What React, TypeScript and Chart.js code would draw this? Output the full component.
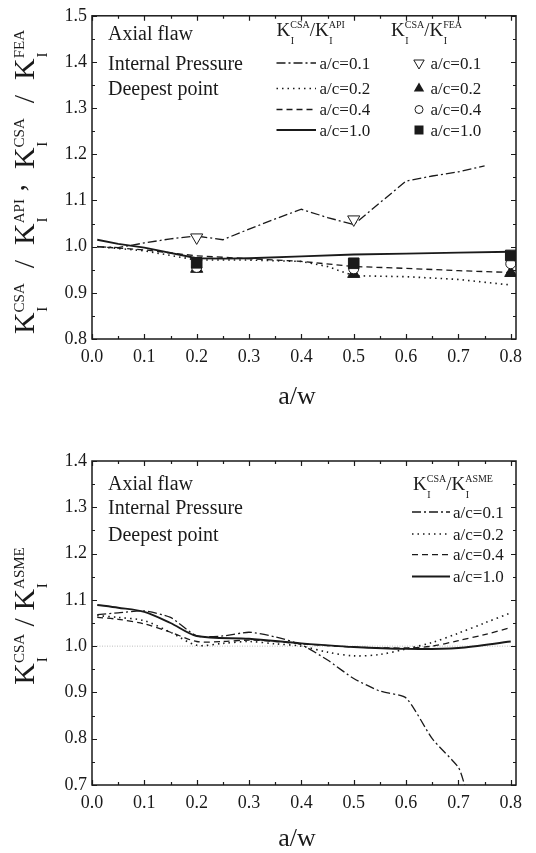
import React, { useEffect, useRef } from "react";
import { Chart, registerables } from "chart.js";

Chart.register(...registerables);

const SERIF = "'Liberation Serif', 'Times New Roman', Times, serif";
const INK = "#1a1a1a";

// ---------- shared ----------
const xTickValues = [0, 0.1, 0.2, 0.3, 0.4, 0.5, 0.6, 0.7, 0.8];
const topYTickValues = [0.8, 0.9, 1.0, 1.1, 1.2, 1.3, 1.4, 1.5];
const botYTickValues = [0.7, 0.8, 0.9, 1.0, 1.1, 1.2, 1.3, 1.4];
const seriesLabels = ["a/c=0.1", "a/c=0.2", "a/c=0.4", "a/c=1.0"];
const infoLines = ["Axial flaw", "Internal Pressure", "Deepest point"];
const xTitle = "a/w";

// ---------- top chart: K_CSA / K_API (lines) ----------
const apiX01 = [0.01, 0.05, 0.1, 0.15, 0.2, 0.25, 0.3, 0.35, 0.4, 0.45, 0.5, 0.55, 0.6, 0.65, 0.7, 0.75];
const apiY01 = [1.0, 0.998, 1.008, 1.017, 1.023, 1.015, 1.038, 1.06, 1.081, 1.063, 1.048, 1.095, 1.142, 1.153, 1.162, 1.175];
const apiX02 = [0.01, 0.1, 0.2, 0.3, 0.4, 0.45, 0.5, 0.6, 0.7, 0.8];
const apiY02 = [1.0, 0.991, 0.971, 0.971, 0.968, 0.957, 0.937, 0.935, 0.929, 0.917];
const apiX04 = [0.01, 0.1, 0.2, 0.3, 0.4, 0.5, 0.6, 0.7, 0.8];
const apiY04 = [1.0, 0.993, 0.98, 0.974, 0.968, 0.957, 0.953, 0.948, 0.944];
const apiX10 = [0.01, 0.05, 0.1, 0.2, 0.25, 0.3, 0.4, 0.5, 0.6, 0.7, 0.8];
const apiY10 = [1.015, 1.006, 0.998, 0.975, 0.974, 0.975, 0.979, 0.983, 0.985, 0.987, 0.989];

// ---------- top chart: K_CSA / K_FEA (markers) ----------
const feaX01 = [0.2, 0.5];
const feaY01 = [1.02, 1.059];
const feaX = [0.2, 0.5, 0.8];
const feaY02 = [0.952, 0.941, 0.943];
const feaY04 = [0.955, 0.952, 0.963];
const feaY10 = [0.965, 0.964, 0.981];

// ---------- bottom chart: K_CSA / K_ASME ----------
const asmeX01 = [0.01, 0.05, 0.1, 0.15, 0.2, 0.25, 0.3, 0.35, 0.4, 0.45, 0.5, 0.55, 0.6, 0.65, 0.7, 0.712];
const asmeY01 = [1.068, 1.072, 1.076, 1.062, 1.022, 1.022, 1.03, 1.02, 1.003, 0.97, 0.93, 0.903, 0.888, 0.8, 0.738, 0.7];
const asmeX02 = [0.01, 0.05, 0.1, 0.15, 0.2, 0.25, 0.3, 0.35, 0.4, 0.45, 0.5, 0.55, 0.6, 0.65, 0.7, 0.75, 0.8];
const asmeY02 = [1.066, 1.062, 1.055, 1.03, 1.002, 1.006, 1.01, 1.005, 1.0, 0.987, 0.979, 0.982, 0.994, 1.008, 1.028, 1.05, 1.072];
const asmeX04 = [0.01, 0.05, 0.1, 0.15, 0.2, 0.25, 0.3, 0.35, 0.4, 0.5, 0.6, 0.65, 0.7, 0.75, 0.8];
const asmeY04 = [1.062, 1.058, 1.048, 1.03, 1.01, 1.01, 1.013, 1.01, 1.005, 0.998, 0.996, 1.0, 1.012, 1.025, 1.04];
const asmeX10 = [0.01, 0.05, 0.1, 0.15, 0.2, 0.3, 0.4, 0.5, 0.6, 0.7, 0.8];
const asmeY10 = [1.089, 1.083, 1.074, 1.05, 1.022, 1.016, 1.006, 0.998, 0.994, 0.996, 1.01];
const asmeRefY = 1.0;

// ---------- styles ----------
const dashes: number[][] = [[9, 3, 2, 3], [1.5, 4], [6, 4], []];
const widths = [1.3, 1.6, 1.3, 1.9];

const pts = (xs: number[], ys: number[]) => xs.map((x, i) => ({ x, y: ys[i] }));

type Part = { k?: string; t?: string; raise?: number };
type Sizes = { big: number; small: number; raise: number; drop: number };

function kWidth(ctx: CanvasRenderingContext2D, sup: string, s: Sizes) {
  ctx.font = `${s.big}px ${SERIF}`;
  const wK = ctx.measureText("K").width;
  ctx.font = `${s.small}px ${SERIF}`;
  return wK + Math.max(ctx.measureText(sup).width, ctx.measureText("I").width);
}
function drawK(ctx: CanvasRenderingContext2D, x: number, y: number, sup: string, s: Sizes) {
  ctx.font = `${s.big}px ${SERIF}`;
  ctx.fillText("K", x, y);
  const wK = ctx.measureText("K").width;
  ctx.font = `${s.small}px ${SERIF}`;
  ctx.fillText(sup, x + wK, y - s.raise);
  ctx.fillText("I", x + wK + s.small * 0.05, y + s.drop);
  return wK + Math.max(ctx.measureText(sup).width, ctx.measureText("I").width);
}
function richWidth(ctx: CanvasRenderingContext2D, parts: Part[], s: Sizes) {
  let w = 0;
  for (const p of parts) {
    if (p.k !== undefined) w += kWidth(ctx, p.k, s);
    else {
      ctx.font = `${s.big}px ${SERIF}`;
      w += ctx.measureText(p.t || "").width;
    }
  }
  return w;
}
function drawRich(ctx: CanvasRenderingContext2D, parts: Part[], x: number, y: number, s: Sizes) {
  for (const p of parts) {
    if (p.k !== undefined) x += drawK(ctx, x, y, p.k, s);
    else {
      ctx.font = `${s.big}px ${SERIF}`;
      ctx.fillText(p.t || "", x, y - (p.raise || 0));
      x += ctx.measureText(p.t || "").width;
    }
  }
}
function drawMarker(ctx: CanvasRenderingContext2D, kind: string, x: number, y: number) {
  ctx.save();
  ctx.setLineDash([]);
  ctx.lineWidth = 1;
  ctx.strokeStyle = INK;
  ctx.beginPath();
  if (kind === "tdown") {
    const r = 6;
    ctx.moveTo(x, y + r);
    ctx.lineTo(x - r * 0.866, y - r / 2);
    ctx.lineTo(x + r * 0.866, y - r / 2);
    ctx.closePath();
    ctx.fillStyle = "#fff";
    ctx.fill();
    ctx.stroke();
  } else if (kind === "tup") {
    const r = 6;
    ctx.moveTo(x, y - r);
    ctx.lineTo(x - r * 0.866, y + r / 2);
    ctx.lineTo(x + r * 0.866, y + r / 2);
    ctx.closePath();
    ctx.fillStyle = INK;
    ctx.fill();
  } else if (kind === "circle") {
    ctx.arc(x, y, 4, 0, Math.PI * 2);
    ctx.fillStyle = "#fff";
    ctx.fill();
    ctx.stroke();
  } else {
    ctx.rect(x - 4.5, y - 4.5, 9, 9);
    ctx.fillStyle = INK;
    ctx.fill();
  }
  ctx.restore();
}

type FrameCfg = {
  yTicks: number[];
  yTitle: Part[];
  yTitleCenter: number;
  xTitleY: number;
  extra: (ctx: CanvasRenderingContext2D, chart: any) => void;
  refY?: number;
};

function framePlugin(cfg: FrameCfg) {
  return {
    id: "frame",
    beforeDatasetsDraw(chart: any) {
      if (cfg.refY === undefined) return;
      const { ctx, chartArea: a, scales } = chart;
      const y = scales.y.getPixelForValue(cfg.refY);
      ctx.save();
      ctx.strokeStyle = "#bdbdbd";
      ctx.lineWidth = 1;
      ctx.setLineDash([1, 1.5]);
      ctx.beginPath();
      ctx.moveTo(a.left, y);
      ctx.lineTo(a.right, y);
      ctx.stroke();
      ctx.restore();
    },
    afterDraw(chart: any) {
      const { ctx, chartArea: a, scales } = chart;
      const xs = scales.x;
      const ys = scales.y;
      ctx.save();
      ctx.strokeStyle = INK;
      ctx.fillStyle = INK;
      ctx.setLineDash([]);
      ctx.lineWidth = 1.5;
      ctx.strokeRect(a.left, a.top, a.right - a.left, a.bottom - a.top);
      ctx.lineWidth = 1.2;
      ctx.beginPath();
      const xAll: [number, number][] = [];
      xTickValues.forEach((v, i) => {
        xAll.push([v, 5]);
        if (i < xTickValues.length - 1) xAll.push([(v + xTickValues[i + 1]) / 2, 3]);
      });
      for (const [v, len] of xAll) {
        const px = Math.round(xs.getPixelForValue(v)) + 0.5;
        ctx.moveTo(px, a.bottom);
        ctx.lineTo(px, a.bottom - len);
        ctx.moveTo(px, a.top);
        ctx.lineTo(px, a.top + len);
      }
      const yAll: [number, number][] = [];
      cfg.yTicks.forEach((v, i) => {
        yAll.push([v, 5]);
        if (i < cfg.yTicks.length - 1) yAll.push([(v + cfg.yTicks[i + 1]) / 2, 3]);
      });
      for (const [v, len] of yAll) {
        const py = Math.round(ys.getPixelForValue(v)) + 0.5;
        ctx.moveTo(a.left, py);
        ctx.lineTo(a.left + len, py);
        ctx.moveTo(a.right, py);
        ctx.lineTo(a.right - len, py);
      }
      ctx.stroke();

      // axis titles
      ctx.textBaseline = "alphabetic";
      ctx.font = `26px ${SERIF}`;
      ctx.textAlign = "center";
      ctx.fillText(xTitle, (a.left + a.right) / 2 - 7, cfg.xTitleY);
      ctx.textAlign = "left";
      const s: Sizes = { big: 30, small: 15, raise: 10, drop: 13 };
      const w = richWidth(ctx, cfg.yTitle, s);
      ctx.save();
      ctx.translate(34, cfg.yTitleCenter);
      ctx.rotate(-Math.PI / 2);
      drawRich(ctx, cfg.yTitle, -w / 2, 0, s);
      ctx.restore();

      cfg.extra(ctx, chart);
      ctx.restore();
    },
  };
}

function baseOptions(yMin: number, yMax: number, yTicks: number[], padTop: number, xAxisH: number) {
  const tickFont = { family: SERIF, size: 18 };
  return {
    responsive: false,
    animation: false as const,
    events: [],
    layout: { padding: { top: padTop, right: 20, left: 0, bottom: 0 } },
    plugins: { legend: { display: false }, tooltip: { enabled: false } },
    scales: {
      x: {
        type: "linear" as const,
        min: 0,
        max: 0.81,
        grid: { display: false, drawTicks: false },
        border: { display: false },
        afterBuildTicks: (sc: any) => {
          sc.ticks = xTickValues.map((v) => ({ value: v }));
        },
        afterFit: (sc: any) => {
          sc.height = xAxisH;
        },
        ticks: {
          padding: 7,
          font: tickFont,
          color: INK,
          maxRotation: 0,
          autoSkip: false,
          callback: (v: any) => Number(v).toFixed(1),
        },
      },
      y: {
        type: "linear" as const,
        min: yMin,
        max: yMax,
        grid: { display: false, drawTicks: false },
        border: { display: false },
        afterBuildTicks: (sc: any) => {
          sc.ticks = yTicks.map((v) => ({ value: v }));
        },
        afterFit: (sc: any) => {
          sc.width = 92;
        },
        ticks: {
          padding: 5,
          font: tickFont,
          color: INK,
          autoSkip: false,
          callback: (v: any) => Number(v).toFixed(1),
        },
      },
    },
  };
}

function lineDs(label: string, xs: number[], ys: number[], i: number, tension: number) {
  return {
    label,
    data: pts(xs, ys),
    showLine: true,
    borderColor: INK,
    borderWidth: widths[i],
    borderDash: dashes[i],
    pointRadius: 0,
    tension,
    fill: false,
    order: 10 + i,
  };
}

function TopChart() {
  const ref = useRef<HTMLCanvasElement>(null);
  useEffect(() => {
    if (!ref.current) return;
    const markerDs = (label: string, xs: number[], ys: number[], style: string, rot: number, fillC: string, r: number, order: number) => ({
      label,
      data: pts(xs, ys),
      showLine: false,
      pointStyle: style,
      rotation: rot,
      pointRadius: r,
      pointBackgroundColor: fillC,
      pointBorderColor: INK,
      pointBorderWidth: 1,
      order,
    });
    const extra = (ctx: CanvasRenderingContext2D) => {
      ctx.fillStyle = INK;
      ctx.textAlign = "left";
      ctx.font = `20px ${SERIF}`;
      const infoBase = [39.5, 69.5, 94.5];
      infoLines.forEach((t, i) => ctx.fillText(t, 108, infoBase[i]));
      const hs: Sizes = { big: 19, small: 10, raise: 8, drop: 8 };
      drawRich(ctx, [{ k: "CSA" }, { t: "/" }, { k: "API" }], 276.5, 36, hs);
      drawRich(ctx, [{ k: "CSA" }, { t: "/" }, { k: "FEA" }], 391, 36, hs);
      const rows = [63, 88.5, 109.5, 130];
      const kinds = ["tdown", "tup", "circle", "square"];
      ctx.font = `17px ${SERIF}`;
      rows.forEach((cy, i) => {
        ctx.save();
        ctx.strokeStyle = INK;
        ctx.lineWidth = widths[i];
        ctx.setLineDash(dashes[i]);
        ctx.beginPath();
        ctx.moveTo(276.5, cy);
        ctx.lineTo(316, cy);
        ctx.stroke();
        ctx.restore();
        ctx.font = `17px ${SERIF}`;
        ctx.fillStyle = INK;
        ctx.fillText(seriesLabels[i], 319.5, cy + 5.5);
        drawMarker(ctx, kinds[i], 419, cy);
        ctx.fillStyle = INK;
        ctx.fillText(seriesLabels[i], 430.5, cy + 5.5);
      });
    };
    const chart = new Chart(ref.current, {
      type: "scatter",
      data: {
        datasets: [
          lineDs(seriesLabels[0], apiX01, apiY01, 0, 0),
          lineDs(seriesLabels[1], apiX02, apiY02, 1, 0),
          lineDs(seriesLabels[2], apiX04, apiY04, 2, 0),
          lineDs(seriesLabels[3], apiX10, apiY10, 3, 0),
          markerDs(seriesLabels[0], feaX01, feaY01, "triangle", 180, "#fff", 7, 4),
          markerDs(seriesLabels[1], feaX, feaY02, "triangle", 0, INK, 7, 3),
          markerDs(seriesLabels[2], feaX, feaY04, "circle", 0, "#fff", 5, 2),
          markerDs(seriesLabels[3], feaX, feaY10, "rect", 0, INK, 7.5, 1),
        ] as any,
      },
      options: baseOptions(0.8, 1.5, topYTickValues, 15, 81) as any,
      plugins: [
        framePlugin({
          yTicks: topYTickValues,
          yTitle: [{ k: "CSA" }, { t: "  /  " }, { k: "API" }, { t: " ,  ", raise: 10 }, { k: "CSA" }, { t: "  /  " }, { k: "FEA" }],
          yTitleCenter: 182,
          xTitleY: 404,
          extra,
        }) as any,
      ],
    });
    return () => chart.destroy();
  }, []);
  return <canvas ref={ref} width={536} height={420} style={{ display: "block", position: "absolute", left: 0, top: 0 }} />;
}

function BottomChart() {
  const ref = useRef<HTMLCanvasElement>(null);
  useEffect(() => {
    if (!ref.current) return;
    const extra = (ctx: CanvasRenderingContext2D) => {
      ctx.fillStyle = INK;
      ctx.textAlign = "left";
      ctx.font = `20px ${SERIF}`;
      const infoBase = [70, 94, 120.5];
      infoLines.forEach((t, i) => ctx.fillText(t, 108, infoBase[i]));
      const hs: Sizes = { big: 19, small: 10, raise: 8, drop: 8 };
      drawRich(ctx, [{ k: "CSA" }, { t: "/" }, { k: "ASME" }], 413, 70, hs);
      const rows = [92, 114, 134.6, 156.5];
      rows.forEach((cy, i) => {
        ctx.save();
        ctx.strokeStyle = INK;
        ctx.lineWidth = widths[i];
        ctx.setLineDash(dashes[i]);
        ctx.beginPath();
        ctx.moveTo(412, cy);
        ctx.lineTo(450, cy);
        ctx.stroke();
        ctx.restore();
        ctx.font = `17px ${SERIF}`;
        ctx.fillStyle = INK;
        ctx.fillText(seriesLabels[i], 453, cy + 5.5);
      });
    };
    const chart = new Chart(ref.current, {
      type: "scatter",
      data: {
        datasets: [
          lineDs(seriesLabels[0], asmeX01, asmeY01, 0, 0.2),
          lineDs(seriesLabels[1], asmeX02, asmeY02, 1, 0.3),
          lineDs(seriesLabels[2], asmeX04, asmeY04, 2, 0.3),
          lineDs(seriesLabels[3], asmeX10, asmeY10, 3, 0.3),
        ] as any,
      },
      options: baseOptions(0.7, 1.4, botYTickValues, 41, 68) as any,
      plugins: [
        framePlugin({
          yTicks: botYTickValues,
          yTitle: [{ k: "CSA" }, { t: " / " }, { k: "ASME" }],
          yTitleCenter: 196,
          xTitleY: 426,
          extra,
          refY: asmeRefY,
        }) as any,
      ],
    });
    return () => chart.destroy();
  }, []);
  return <canvas ref={ref} width={536} height={433} style={{ display: "block", position: "absolute", left: 0, top: 420 }} />;
}

export default function App() {
  return (
    <div style={{ position: "absolute", left: 0, top: 0, width: 536, height: 853, background: "#fff" }}>
      <TopChart />
      <BottomChart />
    </div>
  );
}
